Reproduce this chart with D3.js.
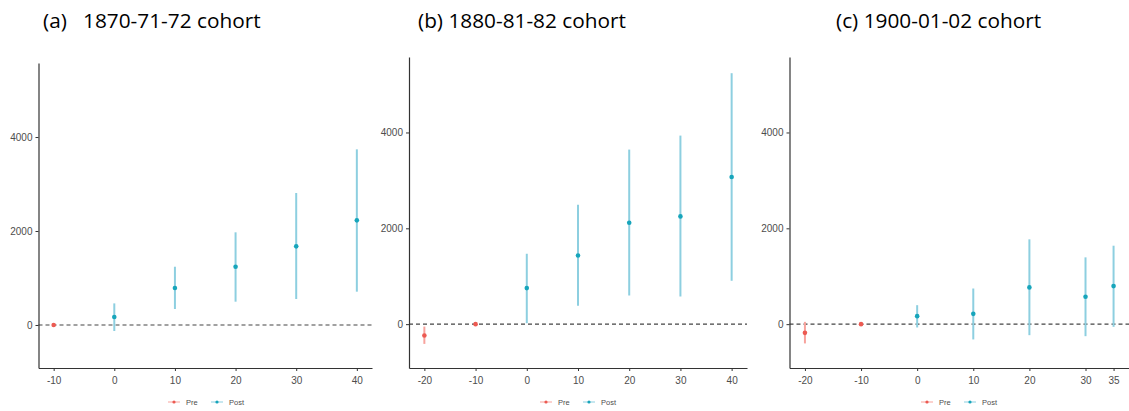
<!DOCTYPE html>
<html>
<head>
<meta charset="utf-8">
<script src="https://cdn.jsdelivr.net/npm/d3@7"></script>
<style>
  body { margin: 0; background: #fff; }
  svg { display: block; }
</style>
</head>
<body>
<svg id="chart" width="1129" height="411"></svg>
<script>
// Event-study estimates

// (a) 1870-71-72 cohort
const yearsA = [-10, 0, 10, 20, 30, 40];
const estA   = [0, 170, 787, 1240, 1674, 2227];
const lowA   = [null, -128, 340, 496, 553, 709];
const highA  = [null, 460, 1240, 1972, 2809, 3738];
const periodA = ["Pre", "Post", "Post", "Post", "Post", "Post"];
const ticksA = [-10, 0, 10, 20, 30, 40];

// (b) 1880-81-82 cohort
const yearsB = [-20, -10, 0, 10, 20, 30, 40];
const estB   = [-238, 0, 752, 1434, 2117, 2249, 3072];
const lowB   = [-412, null, 20, 382, 598, 577, 905];
const highB  = [-50, null, 1469, 2493, 3643, 3935, 5237];
const periodB = ["Pre", "Pre", "Post", "Post", "Post", "Post", "Post"];
const ticksB = [-20, -10, 0, 10, 20, 30, 40];

// (c) 1900-01-02 cohort
const yearsC = [-20, -10, 0, 10, 20, 30, 35];
const estC   = [-181, 0, 167, 215, 767, 571, 794];
const lowC   = [-402, null, -69, -319, -230, -251, -56];
const highC  = [48, null, 396, 744, 1770, 1394, 1637];
const periodC = ["Pre", "Pre", "Post", "Post", "Post", "Post", "Post"];
const ticksC = [-20, -10, 0, 10, 20, 30, 35];

const titles = ["(a)   1870-71-72 cohort", "(b) 1880-81-82 cohort", "(c) 1900-01-02 cohort"];
const yTicks = [0, 2000, 4000];
const yDomain = [-915, 5575];
const legendKeys = ["Pre", "Post"];

const colors = {
  Pre:  { point: "#ec5a52", bar: "#f8a39d" },
  Post: { point: "#17a5bb", bar: "#8dcfe0" }
};

// panel boxes (pixel layout)
const panels = [
  { years: yearsA, est: estA, low: lowA, high: highA, period: periodA, ticks: ticksA,
    left: 38.5, right: 372, top: 63, bottom: 368, titleX: 43, legendX: 168 },
  { years: yearsB, est: estB, low: lowB, high: highB, period: periodB, ticks: ticksB,
    left: 409, right: 747, top: 57, bottom: 368, titleX: 418, legendX: 540 },
  { years: yearsC, est: estC, low: lowC, high: highC, period: periodC, ticks: ticksC,
    left: 789.5, right: 1129, top: 57, bottom: 368, titleX: 836, legendX: 921 }
];

const svg = d3.select("#chart");
const plain = d => String(d);   // hyphen minus, like the original

panels.forEach((p, i) => {
  const ext = d3.extent(p.ticks);
  const pad = (ext[1] - ext[0]) * 0.05;
  const x = d3.scaleLinear().domain([ext[0] - pad, ext[1] + pad]).range([p.left, p.right]);
  const y = d3.scaleLinear().domain(yDomain).range([p.bottom, p.top]);

  const g = svg.append("g");

  // title
  svg.append("text")
    .attr("x", p.titleX)
    .attr("y", 28)
    .attr("font-family", "'Open Sans', sans-serif")
    .attr("font-size", 20.8)
    .attr("fill", "#000")
    .attr("xml:space", "preserve")
    .style("white-space", "pre")
    .text(titles[i]);

  // zero reference line
  g.append("line")
    .attr("x1", p.left).attr("x2", p.right)
    .attr("y1", y(0)).attr("y2", y(0))
    .attr("stroke", "#444")
    .attr("stroke-width", 1.1)
    .attr("stroke-dasharray", "4,3");

  const rows = p.years.map((yr, j) => ({
    yr, est: p.est[j], low: p.low[j], high: p.high[j], period: p.period[j]
  }));

  // error bars
  g.selectAll(".err")
    .data(rows.filter(d => d.low !== null))
    .join("line")
    .attr("class", "err")
    .attr("x1", d => x(d.yr)).attr("x2", d => x(d.yr))
    .attr("y1", d => y(d.low)).attr("y2", d => y(d.high))
    .attr("stroke", d => colors[d.period].bar)
    .attr("stroke-width", 2);

  // points
  g.selectAll(".pt")
    .data(rows)
    .join("circle")
    .attr("class", "pt")
    .attr("cx", d => x(d.yr))
    .attr("cy", d => y(d.est))
    .attr("r", 2.3)
    .attr("fill", d => colors[d.period].point);

  // axes
  const xAxis = g.append("g")
    .attr("transform", `translate(0,${p.bottom})`)
    .call(d3.axisBottom(x).tickValues(p.ticks).tickSize(3).tickSizeOuter(0).tickFormat(plain));
  const yAxis = g.append("g")
    .attr("transform", `translate(${p.left},0)`)
    .call(d3.axisLeft(y).tickValues(yTicks).tickSize(3).tickSizeOuter(0).tickFormat(plain));

  [xAxis, yAxis].forEach(ax => {
    ax.select(".domain").attr("stroke", "#333").attr("stroke-width", 1.2);
    ax.selectAll(".tick line").attr("stroke", "#333");
    ax.selectAll(".tick text")
      .attr("fill", "#4d4d4d")
      .attr("font-family", "'Liberation Sans', Arial, sans-serif")
      .attr("font-size", 10);
  });
  xAxis.selectAll(".tick text").attr("dy", "1.0em");

  // legend
  const lg = svg.append("g").attr("transform", `translate(${p.legendX},402)`);
  legendKeys.forEach((k, j) => {
    const item = lg.append("g").attr("transform", `translate(${j * 43},0)`);
    item.append("line")
      .attr("x1", 0).attr("x2", 12).attr("y1", 0).attr("y2", 0)
      .attr("stroke", colors[k].bar).attr("stroke-width", 1);
    item.append("circle")
      .attr("cx", 6).attr("cy", 0).attr("r", 1.6)
      .attr("fill", colors[k].point);
    item.append("text")
      .attr("x", 18).attr("y", 2.8)
      .attr("font-family", "'Liberation Sans', Arial, sans-serif")
      .attr("font-size", 7.5)
      .attr("fill", "#4d4d4d")
      .text(k);
  });
});
</script>
</body>
</html>
